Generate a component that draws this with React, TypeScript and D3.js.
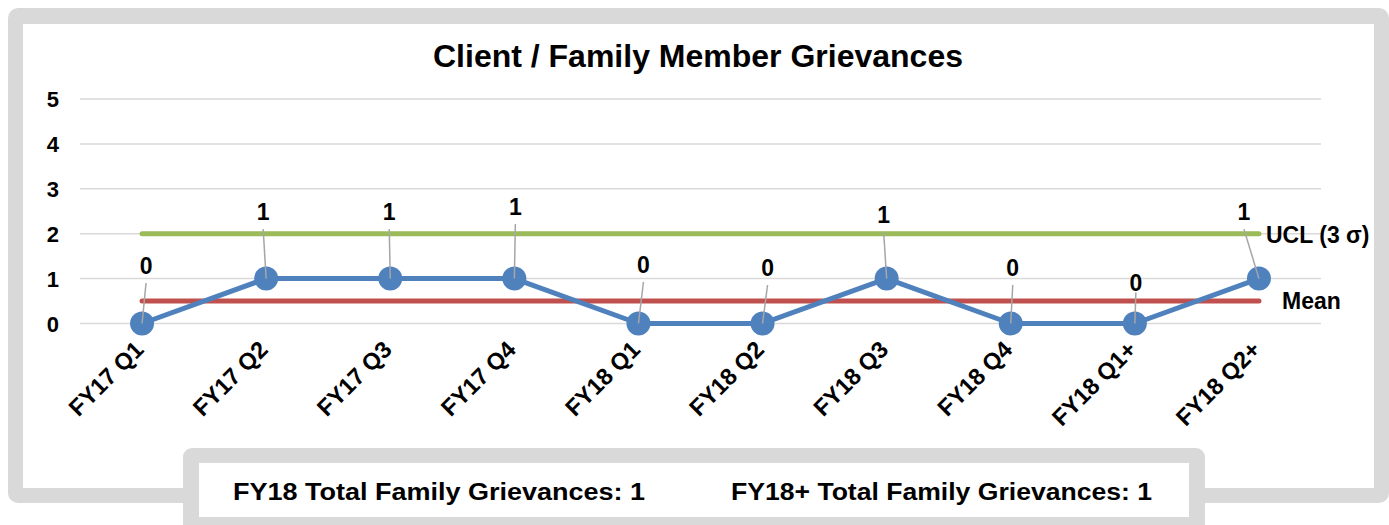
import React from "react";
import * as d3 from "d3";

const categories = [
  "FY17 Q1", "FY17 Q2", "FY17 Q3", "FY17 Q4", "FY18 Q1",
  "FY18 Q2", "FY18 Q3", "FY18 Q4", "FY18 Q1+", "FY18 Q2+",
];
const grievances = [0, 1, 1, 1, 0, 0, 1, 0, 0, 1];
const uclValue = 2;
const meanValue = 0.5;
const yTicks = [0, 1, 2, 3, 4, 5];
const titleText = "Client / Family Member Grievances";
const uclLabel = "UCL (3 σ)";
const meanLabel = "Mean";
const summaryTexts = ["FY18 Total Family Grievances:  1", "FY18+ Total Family Grievances: 1"];

// manual nudges of the data labels (as placed in the original chart)
const labelDx = [4, -3, -1, 1, 5, 5, -3, 2, 1, -15];
const labelDy = [-57.5, -66.5, -66.5, -71.5, -58.5, -55.5, -63.5, -55.5, -40.5, -66.5];

const W = 1389;
const H = 525;
const FONT = "Arial, 'Liberation Sans', sans-serif";

export default function App() {
  const x = d3.scaleBand<string>().domain(categories).range([80, 1321]);
  const y = d3.scaleLinear().domain([0, 5]).range([323.5, 99]);
  const cx = (c: string) => (x(c) as number) + x.bandwidth() / 2;

  const line = d3
    .line<number>()
    .x((_, i) => cx(categories[i]))
    .y((d) => y(d));

  const xFirst = cx(categories[0]);
  const xLast = cx(categories[categories.length - 1]);

  return (
    <div style={{ position: "absolute", left: 0, top: 0 }}>
      <svg width={W} height={H} style={{ display: "block" }} fontFamily={FONT}>
        <rect x={0} y={0} width={W} height={H} fill="#ffffff" />
        {/* outer frame */}
        <rect x={8} y={8} width={1381} height={495} rx={10} fill="#d9d9d9" />
        <rect x={23} y={24} width={1351} height={464} fill="#ffffff" />

        {/* title */}
        <text x={698} y={67} textAnchor="middle" fontSize={32} fontWeight="bold" fill="#000">
          {titleText}
        </text>

        {/* gridlines */}
        {yTicks.map((t) => (
          <line key={"g" + t} x1={80} x2={1321} y1={y(t)} y2={y(t)} stroke="#d9d9d9" strokeWidth={1.5} />
        ))}
        {/* y tick labels */}
        {yTicks.map((t) => (
          <text key={"yt" + t} x={59} y={y(t) + 8} textAnchor="end" fontSize={22} fontWeight="bold" fill="#000">
            {t}
          </text>
        ))}

        {/* UCL and Mean */}
        <line x1={xFirst} x2={xLast} y1={y(uclValue)} y2={y(uclValue)} stroke="#9bbb59" strokeWidth={5} strokeLinecap="round" />
        <line x1={xFirst} x2={xLast} y1={y(meanValue)} y2={y(meanValue)} stroke="#c0504d" strokeWidth={5} strokeLinecap="round" />

        {/* series */}
        <path d={line(grievances) || ""} fill="none" stroke="#4f81bd" strokeWidth={5} strokeLinejoin="round" />
        {grievances.map((v, i) => (
          <circle key={"m" + i} cx={cx(categories[i])} cy={y(v)} r={12} fill="#4f81bd" />
        ))}

        {/* leader lines and data labels */}
        {grievances.map((v, i) => {
          const px = cx(categories[i]);
          const py = y(v);
          const lx = px + labelDx[i];
          const ly = py + labelDy[i];
          const sy = Math.min(ly + 17, py - 31);
          return (
            <g key={"l" + i}>
              <line x1={lx} y1={sy} x2={px} y2={py} stroke="#a6a6a6" strokeWidth={1.5} />
              <text x={lx} y={ly + 8.3} textAnchor="middle" fontSize={23} fontWeight="bold" fill="#000">
                {v}
              </text>
            </g>
          );
        })}

        {/* series labels */}
        <text x={1266} y={243} fontSize={23} fontWeight="bold" fill="#000">{uclLabel}</text>
        <text x={1282} y={309} fontSize={23} fontWeight="bold" fill="#000">{meanLabel}</text>

        {/* x axis labels */}
        {categories.map((c) => (
          <text
            key={"xl" + c}
            transform={`translate(${cx(c) + 3},${351}) rotate(-45)`}
            textAnchor="end"
            fontSize={23.5}
            fontWeight="bold"
            fill="#000"
          >
            {c}
          </text>
        ))}

        {/* bottom summary box */}
        <rect x={183} y={448} width={1022} height={100} rx={9} fill="#d9d9d9" />
        <rect x={199} y={463} width={990} height={54} fill="#ffffff" />
        <text x={233} y={500} fontSize={23} fontWeight="bold" fill="#000" textLength={412} lengthAdjust="spacingAndGlyphs">
          {summaryTexts[0]}
        </text>
        <text x={731} y={500} fontSize={23} fontWeight="bold" fill="#000" textLength={421} lengthAdjust="spacingAndGlyphs">
          {summaryTexts[1]}
        </text>
      </svg>
    </div>
  );
}
